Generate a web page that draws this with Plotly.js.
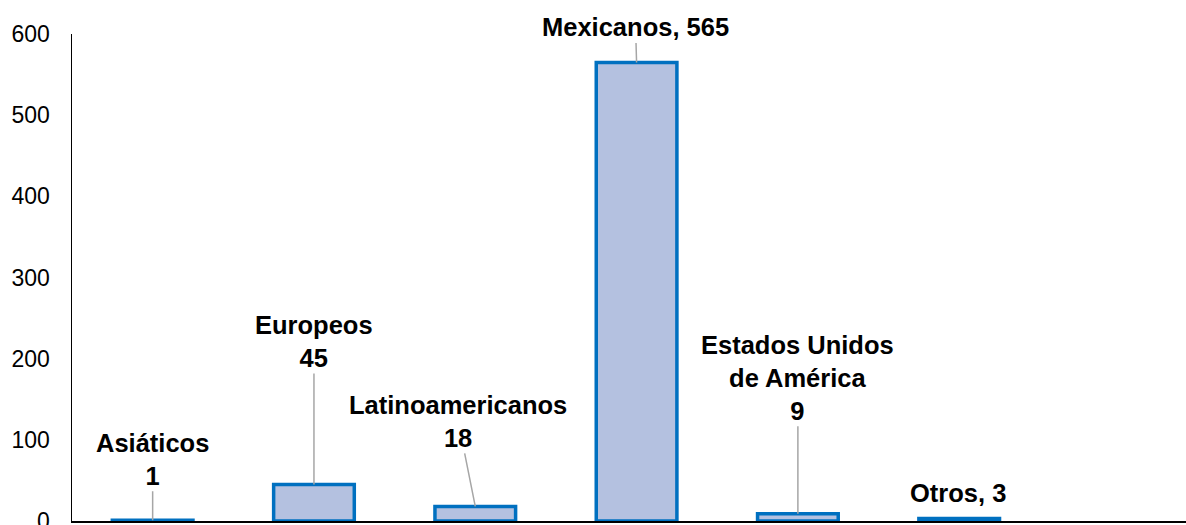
<!DOCTYPE html>
<html>
<head>
<meta charset="utf-8">
<script src="https://cdn.plot.ly/plotly-3.0.1.min.js"></script>
<style>html,body{margin:0;padding:0;background:#fff;}#chart{width:1186px;height:525px;}</style>
</head>
<body>
<div id="chart"></div>
<script>
// Data
const categories = ["Asiáticos", "Europeos", "Latinoamericanos", "Mexicanos", "Estados Unidos de América", "Otros"];
const values = [1, 45, 18, 565, 9, 3];
const labelNames = ["Asiáticos", "Europeos", "Latinoamericanos", "Mexicanos", "Estados Unidos<br>de América", "Otros"];
const labelSeparators = ["<br>", "<br>", "<br>", ", ", "<br>", ", "];
const yTicks = [0, 100, 200, 300, 400, 500, 600];

// Layout-only: label offsets (pixels from bar top) and leader visibility
const labelOffsets = [[0, -61], [0, -143], [-17, -85], [-1, -35], [0, -136], [-1, -26]];
const showLeader = [true, true, true, true, true, false];

const FONT = '"Liberation Sans", Arial, sans-serif';

const trace = {
  type: 'bar',
  x: categories,
  y: values,
  width: 0.5,
  marker: {color: '#B4C1E0', line: {color: '#0070C0', width: 3.5}},
  hoverinfo: 'skip'
};

const annotations = categories.map((c, i) => ({
  x: c, y: values[i], xref: 'x', yref: 'y',
  text: '<b>' + labelNames[i] + labelSeparators[i] + values[i] + '</b>',
  showarrow: true, arrowhead: 0, standoff: 0,
  arrowwidth: 1.5,
  arrowcolor: showLeader[i] ? '#A6A6A6' : 'rgba(0,0,0,0)',
  ax: labelOffsets[i][0], ay: labelOffsets[i][1],
  font: {family: FONT, size: 25.5, color: '#000'},
  align: 'center'
}));

const layout = {
  width: 1186, height: 525,
  margin: {l: 72, r: 0, t: 34, b: 4, pad: 0},
  paper_bgcolor: '#fff', plot_bgcolor: '#fff',
  showlegend: false,
  bargap: 0.5,
  xaxis: {
    type: 'category', range: [-0.5, 6.406],
    showticklabels: false, ticks: '', showgrid: false, zeroline: false,
    showline: true, linecolor: '#000', linewidth: 2, fixedrange: true
  },
  yaxis: {
    range: [0, 600], tickvals: yTicks, ticktext: yTicks.map(String),
    ticks: '', showgrid: false, zeroline: false,
    showline: true, linecolor: '#000', linewidth: 1.5,
    tickfont: {family: FONT, size: 23, color: '#000'},
    ticklabelstandoff: 16, ticklabeloverflow: 'allow', fixedrange: true
  },
  annotations: annotations
};

Plotly.newPlot('chart', [trace], layout, {displayModeBar: false, staticPlot: true});
</script>
</body>
</html>
